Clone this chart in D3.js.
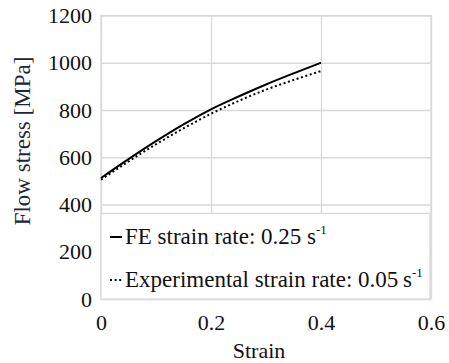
<!DOCTYPE html>
<html>
<head>
<meta charset="utf-8">
<script src="https://cdn.jsdelivr.net/npm/d3@7"></script>
<style>
  body { margin: 0; background: #fff; }
</style>
</head>
<body>
<div id="chart"></div>
<script>
  // values
  var strain = [0, 0.05, 0.1, 0.15, 0.2, 0.25, 0.3, 0.35, 0.4];
  var feStress = [512, 592, 668, 739, 803, 857, 908, 955, 1000];
  var expStress = [505, 582, 655, 722, 784, 838, 886, 927, 965];
  var xTicks = [0, 0.2, 0.4, 0.6];
  var yTicks = [0, 200, 400, 600, 800, 1000, 1200];
  var seriesNames = ["FE strain rate: 0.25 s", "Experimental strain rate: 0.05\u2009s"];

  var font = 'Times New Roman';
  var gridColor = '#d9d9d9';
  var width = 449, height = 363;
  var margin = {top: 15.5, right: 18, bottom: 64, left: 101};
  var w = width - margin.left - margin.right;
  var h = height - margin.top - margin.bottom;

  var svg = d3.select('#chart').append('svg').attr('width', width).attr('height', height)
    .attr('font-family', font);
  var g = svg.append('g').attr('transform', 'translate(' + margin.left + ',' + margin.top + ')');

  var x = d3.scaleLinear().domain([0, 0.6]).range([0, w]);
  var y = d3.scaleLinear().domain([0, 1200]).range([h, 0]);

  // gridlines + tick labels
  var gy = g.append('g')
    .call(d3.axisLeft(y).tickValues(yTicks).tickSize(-w).tickPadding(9).tickFormat(d3.format('d')));
  var gx = g.append('g').attr('transform', 'translate(0,' + h + ')')
    .call(d3.axisBottom(x).tickValues(xTicks).tickSize(-h).tickPadding(15).tickFormat(d3.format('~g')));
  [gy, gx].forEach(function(a) {
    a.attr('font-family', font).attr('font-size', 22);
    a.select('.domain').remove();
    a.selectAll('line').attr('stroke', gridColor).attr('stroke-width', 1.3);
    a.selectAll('text').attr('fill', '#111');
  });

  g.append('rect').attr('x', 0).attr('y', 0).attr('width', w).attr('height', h)
    .attr('fill', 'none').attr('stroke', gridColor).attr('stroke-width', 1.3);

  var line = function(vals) {
    return d3.line().x(function(d, i) { return x(strain[i]); }).y(function(d) { return y(d); }).curve(d3.curveMonotoneX)(vals);
  };

  g.append('path').attr('d', line(expStress)).attr('fill', 'none').attr('stroke', '#000')
    .attr('stroke-width', 2).attr('stroke-dasharray', '2,2.6');
  g.append('path').attr('d', line(feStress)).attr('fill', 'none').attr('stroke', '#000')
    .attr('stroke-width', 2);

  // legend box inside the plot
  var legendTop = y(362);
  var leg = g.append('g');
  leg.append('rect').attr('x', 0).attr('y', legendTop).attr('width', w - 1).attr('height', h - legendTop)
    .attr('fill', '#fff').attr('stroke', gridColor).attr('stroke-width', 1.3);

  var rows = [{name: seriesNames[0], dash: null, y: 244}, {name: seriesNames[1], dash: '2,2.6', y: 287}];
  rows.forEach(function(r) {
    var ry = r.y - margin.top;
    leg.append('line').attr('x1', 9).attr('x2', 21).attr('y1', ry - 7).attr('y2', ry - 7)
      .attr('stroke', '#000').attr('stroke-width', 2).attr('stroke-dasharray', r.dash);
    var t = leg.append('text').attr('x', 24).attr('y', ry).attr('font-family', font)
      .attr('font-size', 23).attr('fill', '#111');
    t.append('tspan').text(r.name);
    t.append('tspan').attr('dy', -10).attr('font-size', 13).text('-1');
  });

  // axis titles
  svg.append('text').attr('x', 259).attr('y', 358).attr('text-anchor', 'middle')
    .attr('font-family', font).attr('font-size', 22).attr('fill', '#111').text('Strain');
  svg.append('text').attr('transform', 'translate(30,141) rotate(-90)').attr('text-anchor', 'middle')
    .attr('font-family', font).attr('font-size', 23).attr('fill', '#1c2637').text('Flow stress [MPa]');
</script>
</body>
</html>
